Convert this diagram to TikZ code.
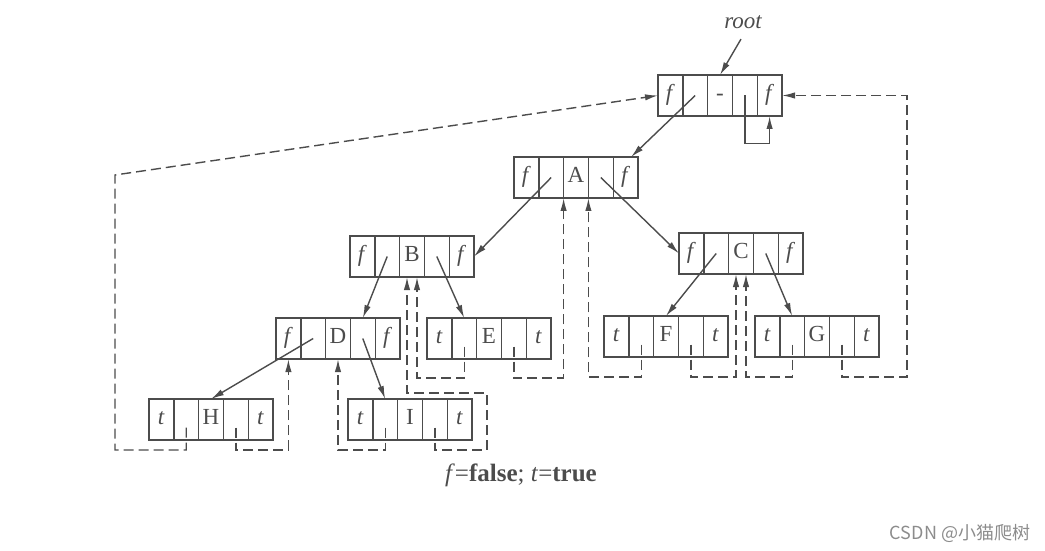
\documentclass[tikz,border=0pt]{standalone}
\usepackage{fontspec}
\setmainfont{Liberation Serif}
\newfontfamily\cjk{Noto Sans CJK SC}
\usetikzlibrary{positioning,arrows.meta,calc}
\definecolor{ink}{gray}{0.3}

\begin{document}
\begin{tikzpicture}[x=0.5pt,y=-0.5pt,
	cell/.style={draw=ink,line width=0.7pt,inner sep=0,outer sep=0,minimum width=12.4pt,minimum height=20.5pt,text height=7.5pt,text depth=2.5pt,text=ink,font=\fontsize{11.5}{13}\selectfont},
	ptr/.style={draw=ink,line width=0.7pt,-{Latex[length=6.5pt,width=3.2pt]}},
	thread/.style={ptr,dash pattern=on 5pt off 2.5pt,shorten <=4pt}]
	\useasboundingbox (0,0) rectangle (1045,551);
	% records: flag / lchild / data / rchild / flag
	\foreach \n/\x/\y/\l/\m/\r in {root/658/75/f/-/f,A/514/157/f/A/f,B/350/236/f/B/f,C/679/233/f/C/f,D/276/318/f/D/f,E/427/318/t/E/t,F/604/316/t/F/t,G/755/316/t/G/t,H/149/399/t/H/t,I/348/399/t/I/t}{
		\node[cell,anchor=north west] (\n1) at (\x,\y) {\textit{\l}};
		\node[cell,right=0pt of \n1] (\n2) {};
		\node[cell,right=0pt of \n2] (\n3) {\m};
		\node[cell,right=0pt of \n3] (\n4) {};
		\node[cell,right=0pt of \n4] (\n5) {\textit{\r}};
	}
	\node[text=ink,font=\fontsize{11.5}{13}\selectfont\itshape] (rootlbl) at (743,22) {root};
	\node[text=ink,font=\fontsize{12.5}{14}\selectfont] (legend) at (521,475) {\textit{f}=\textbf{false}; \textit{t}=\textbf{true}};
	\node[text=black!45,font=\cjk\fontsize{9}{11}\selectfont] (mark) at (960,533) {CSDN @小猫爬树};
	% child links
	\draw[ptr,shorten <=2pt] (rootlbl.south) -- (root3.north);
	\draw[ptr] (root2.center) -- (A5.75);
	\draw[ptr] (root4.center) -- ++(0,48) -| (root5.south);
	\draw[ptr] (A2.center) -- (B5.east);
	\draw[ptr] (A4.center) -- (C1.west);
	\draw[ptr] (B2.center) -- (D4.north);
	\draw[ptr] (B4.center) -- (E2.north);
	\draw[ptr] (C2.center) -- (F3.north);
	\draw[ptr] (C4.center) -- (G2.north);
	\draw[ptr] (D2.center) -- (H3.north);
	\draw[ptr] (D4.center) -- (I2.north);
	% threads
	\draw[thread] (H2.center) -- ++(0,30.5) -| (115,175) -- (root1.west);
	\draw[thread] (H4.center) -- ++(0,30.5) -| (D1.south);
	\draw[thread] (I2.center) -- ++(0,30.5) -| (D3.south);
	\draw[thread] (I4.center) -- ++(0,30.5) -| (487,393) -| ($(B3.south)+(-5,0)$);
	\draw[thread] (E2.center) -- ++(0,39.5) -| ($(B3.south)+(5,0)$);
	\draw[thread] (E4.center) -- ++(0,39.5) -| (A3.south west);
	\draw[thread] (F2.center) -- ++(0,40.5) -| (A3.south east);
	\draw[thread] (F4.center) -- ++(0,40.5) -| ($(C3.south)+(-5,0)$);
	\draw[thread] (G2.center) -- ++(0,40.5) -| ($(C3.south)+(5,0)$);
	\draw[thread] (G4.center) -- ++(0,40.5) -| ($(root5.east)+(125,0)$) -- (root5.east);
\end{tikzpicture}
\end{document}
